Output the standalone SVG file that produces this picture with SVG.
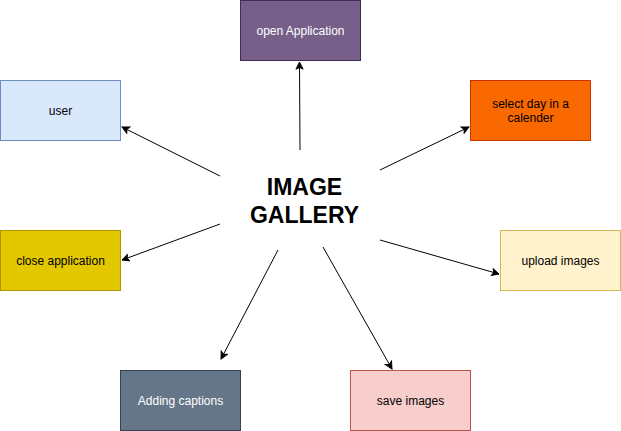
<svg xmlns="http://www.w3.org/2000/svg" width="621" height="431" viewBox="0 0 621 431">
<defs>
<style>
.n{stroke-width:1}
.t{font-family:"Liberation Sans",Arial,sans-serif;font-size:12px;text-anchor:middle}
.e{stroke:#000;stroke-width:1;fill:none;marker-end:url(#a)}
.title{font-family:"Liberation Sans",Arial,sans-serif;font-size:23px;font-weight:bold;text-anchor:middle;fill:#000}
</style>
<marker id="a" viewBox="0 0 10 10" refX="9" refY="5" markerWidth="9" markerHeight="9" markerUnits="userSpaceOnUse" orient="auto">
<path d="M1,1 L9,5 L1,9 L3,5 Z" fill="#000" stroke="#000" stroke-width="1"/>
</marker>
</defs>
<rect width="621" height="431" fill="#fff"/>
<g id="edges">
<path class="e" d="M300,150 L299.5,62"/>
<path class="e" d="M220,176 L122,127"/>
<path class="e" d="M380,170 L469,127"/>
<path class="e" d="M220,224 L122,260"/>
<path class="e" d="M380,240 L499,274"/>
<path class="e" d="M278,250 L221,359"/>
<path class="e" d="M323,247 L392,369"/>
</g>
<g id="open-application">
<rect class="n" x="240.5" y="0.5" width="120" height="60" fill="#76608a" stroke="#432d57"/>
<text class="t" x="300.5" y="34.5" fill="#fff">open Application</text>
</g>
<g id="user">
<rect class="n" x="0.5" y="80.5" width="120" height="60" fill="#dae8fc" stroke="#6c8ebf"/>
<text class="t" x="60.5" y="114.5" fill="#000">user</text>
</g>
<g id="select-day">
<rect class="n" x="470.5" y="80.5" width="120" height="60" fill="#fa6800" stroke="#c73500"/>
<text class="t" x="530.5" y="107.5" fill="#000">select day in a</text>
<text class="t" x="530.5" y="121.5" fill="#000">calender</text>
</g>
<g id="close-application">
<rect class="n" x="0.5" y="230.5" width="120" height="60" fill="#e3c800" stroke="#b09500"/>
<text class="t" x="60.5" y="264.5" fill="#000">close application</text>
</g>
<g id="upload-images">
<rect class="n" x="500.5" y="230.5" width="120" height="60" fill="#fff2cc" stroke="#d6b656"/>
<text class="t" x="560.5" y="264.5" fill="#000">upload images</text>
</g>
<g id="adding-captions">
<rect class="n" x="120.5" y="370.5" width="120" height="60" fill="#647687" stroke="#314354"/>
<text class="t" x="180.5" y="404.5" fill="#fff">Adding captions</text>
</g>
<g id="save-images">
<rect class="n" x="350.5" y="370.5" width="120" height="60" fill="#f8cecc" stroke="#b85450"/>
<text class="t" x="410.5" y="404.5" fill="#000">save images</text>
</g>
<g id="image-gallery">
<text class="title" x="304.5" y="195">IMAGE</text>
<text class="title" x="304.5" y="223">GALLERY</text>
</g>
</svg>
